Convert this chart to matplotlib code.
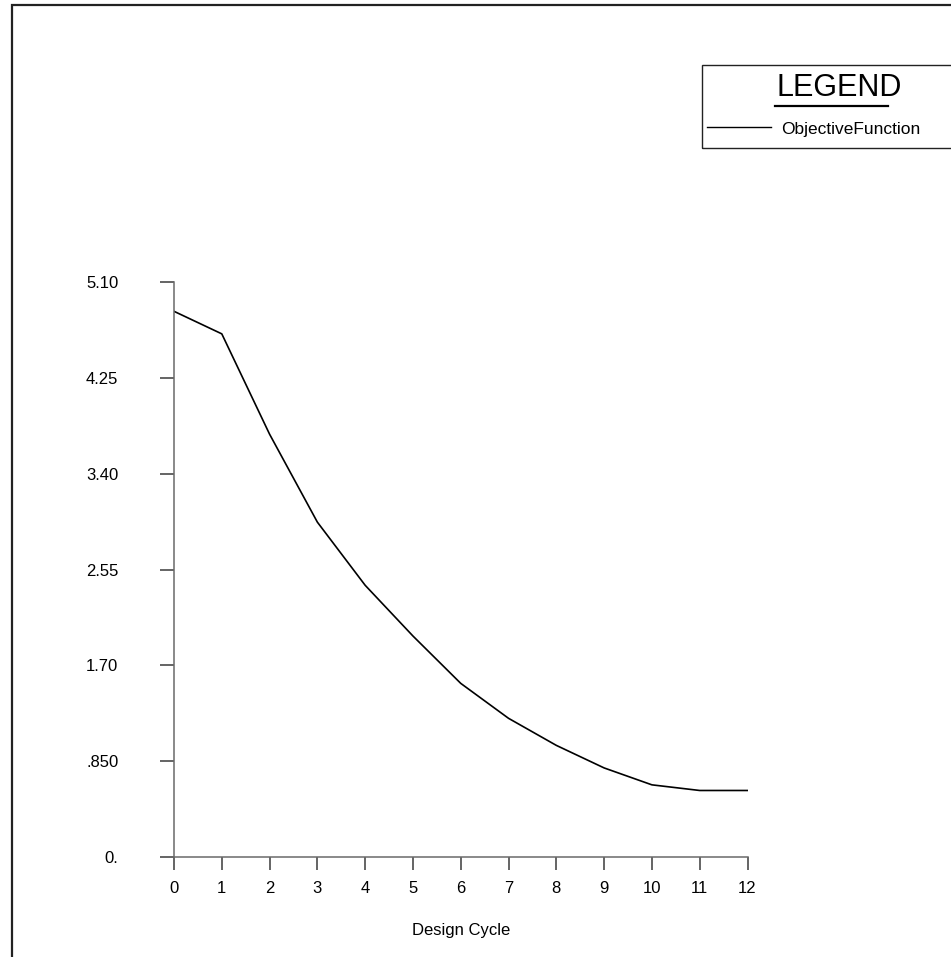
import matplotlib
matplotlib.use("Agg")
from matplotlib import pyplot as plt
from matplotlib.patches import Rectangle
from matplotlib.lines import Line2D

plt.rcParams['font.family'] = ['Liberation Sans', 'DejaVu Sans']

# objective function value per design cycle
cycles = [0, 1, 2, 3, 4, 5, 6, 7, 8, 9, 10, 11, 12]
objective = [4.84, 4.64, 3.75, 2.97, 2.41, 1.96, 1.54, 1.23, 0.99, 0.79, 0.64, 0.59, 0.59]

yticks = [0, 0.85, 1.70, 2.55, 3.40, 4.25, 5.10]
ytick_labels = ['0.', '.850', '1.70', '2.55', '3.40', '4.25', '5.10']
series_name = 'ObjectiveFunction'

W, H = 951, 957
fig = plt.figure(figsize=(W / 100, H / 100), dpi=100)

def fx(px):
    return px / W

def fy(py):
    return 1 - py / H

ax = fig.add_axes([fx(174), fy(857), fx(747.5) - fx(174), fy(282) - fy(857)])
ax.plot(cycles, objective, color='black', lw=1.2)

ax.set_xlim(0, 12)
ax.set_ylim(0, 5.10)
ax.set_xticks(cycles)
ax.set_yticks(yticks)
ax.set_yticklabels(ytick_labels)

for s in ['top', 'right']:
    ax.spines[s].set_visible(False)
for s in ['left', 'bottom']:
    ax.spines[s].set_color('#6a6a6a')
    ax.spines[s].set_linewidth(1.1)

ax.tick_params(axis='y', direction='out', length=10, width=1.1, color='#3a3a3a',
               pad=30, labelsize=12)
ax.tick_params(axis='x', direction='out', length=9, width=1.1, color='#3a3a3a',
               pad=8, labelsize=12)
ax.set_xlabel('Design Cycle', fontsize=12, labelpad=20)

# outer frame (runs off the right and bottom edges)
fig.patches.append(Rectangle((fx(11.5), -0.05), 1.2, fy(5) + 0.05,
                             transform=fig.transFigure, fill=False,
                             edgecolor='#222222', lw=1.6))

# legend block in the upper right
fig.patches.append(Rectangle((fx(702), fy(148)), 1.0, fy(65) - fy(148),
                             transform=fig.transFigure, fill=False,
                             edgecolor='#222222', lw=1.0))
fig.text(fx(839), fy(96.5), 'LEGEND', fontsize=22, ha='center', va='baseline')
fig.lines.append(Line2D([fx(775), fx(888)], [fy(106), fy(106)],
                        transform=fig.transFigure, color='black', lw=1.6))
fig.lines.append(Line2D([fx(707), fx(771)], [fy(127), fy(127)],
                        transform=fig.transFigure, color='black', lw=1.0))
fig.text(fx(781), fy(134), series_name, fontsize=12.5, ha='left', va='baseline')

fig.savefig('out.png', dpi=100)
